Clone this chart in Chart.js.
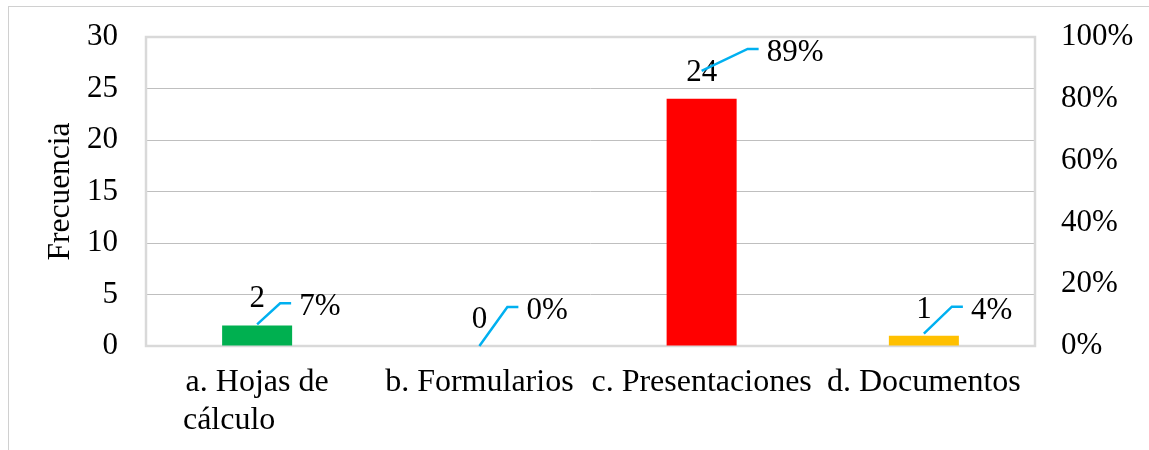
<!DOCTYPE html>
<html>
<head>
<meta charset="utf-8">
<script src="https://cdn.jsdelivr.net/npm/chart.js@4"></script>
<style>
  html, body { margin: 0; padding: 0; background: #fff; }
  #wrap { position: relative; width: 1149px; height: 450px; overflow: hidden; }
  #frame { position: absolute; left: 8px; top: 6px; width: 1200px; height: 500px;
           border-left: 1px solid #d0d0d0; border-top: 1px solid #d0d0d0; }
  #chart { position: absolute; left: 0; top: 0; }
</style>
</head>
<body>
<div id="wrap">
  <div id="frame"></div>
  <canvas id="chart" width="1149" height="450"></canvas>
</div>
<script>
// chart data
const categories = [['a. Hojas de', 'cálculo       '], 'b. Formularios', 'c. Presentaciones', 'd. Documentos'];
const frequencies = [2, 0, 24, 1];
const percentages = [0.07, 0, 0.89, 0.04];
const leftTicks = [0, 5, 10, 15, 20, 25, 30];
const rightTicks = [0, 0.2, 0.4, 0.6, 0.8, 1];

// styling
const barColors = ['#00b050', '#0070c0', '#ff0000', '#ffc000'];
const leaderColor = '#00b0f0';
const serif = "'Liberation Serif', 'Times New Roman', serif";
const fontSize = 31;
// elbow position of each percent callout, relative to its point (px)
const calloutOffsets = [[23, -21], [28, -39], [46, -22], [28, -27]];

const plotBox = { left: 146, right: 1035, top: 37, bottom: 346 };

// draws the plot frame under the bars
const frameBorder = {
    id: 'frameBorder',
    beforeDatasetsDraw(chart) {
        const { ctx, chartArea: a } = chart;
        ctx.save();
        ctx.strokeStyle = '#d9d9d9';
        ctx.lineWidth = 2.5;
        ctx.strokeRect(a.left, a.top, a.right - a.left, a.bottom - a.top);
        ctx.restore();
    }
};

// value labels above bars, percent callouts with leader lines
const labelsPlugin = {
    id: 'labelsPlugin',
    afterDatasetsDraw(chart) {
        const ctx = chart.ctx;
        const bars = chart.getDatasetMeta(0).data;
        const points = chart.getDatasetMeta(1).data;
        ctx.save();
        ctx.font = fontSize + 'px ' + serif;
        ctx.fillStyle = '#000';
        ctx.textAlign = 'center';
        ctx.textBaseline = 'alphabetic';
        bars.forEach((bar, i) => {
            ctx.fillText(String(frequencies[i]), bar.x, bar.y - 18);
        });

        points.forEach((pt, i) => {
            const [dx, dy] = calloutOffsets[i];
            const ex = pt.x + dx, ey = pt.y + dy;
            ctx.strokeStyle = leaderColor;
            ctx.lineWidth = 2.5;
            ctx.beginPath();
            ctx.moveTo(pt.x, pt.y);
            ctx.lineTo(ex, ey);
            ctx.lineTo(ex + 11, ey);
            ctx.stroke();
            ctx.textAlign = 'left';
            ctx.fillStyle = '#000';
            ctx.fillText(Math.round(percentages[i] * 100) + '%', ex + 19, ey + 12);
        });
        ctx.restore();
    }
};

// fixes an axis box size and drops the tick overflow padding
function fixSize(prop, size) {
    return scale => {
        scale[prop] = size;
        if (prop === 'width') {
            scale.paddingTop = 0;
            scale.paddingBottom = 0;
        }
    };
}

new Chart(document.getElementById('chart'), {
    data: {
        labels: categories,
        datasets: [{
            type: 'bar',
            label: 'Frecuencia',
            data: frequencies,
            backgroundColor: barColors,
            barPercentage: 0.315,
            categoryPercentage: 1,
            yAxisID: 'y',
            order: 2
        }, {
            type: 'line',
            label: 'Porcentaje',
            data: percentages,
            showLine: false,
            pointRadius: 0,
            borderColor: leaderColor,
            yAxisID: 'y1',
            order: 1
        }]
    },
    options: {
        responsive: false,
        animation: false,
        layout: { padding: { top: plotBox.top, left: 0, right: 0, bottom: 0 } },
        plugins: { legend: { display: false }, tooltip: { enabled: false } },
        scales: {
            x: {
                grid: { display: false },
                border: { display: false },
                ticks: {
                    color: '#000',
                    font: { family: serif, size: 32 },
                    maxRotation: 0, autoSkip: false, padding: 9
                },
                afterFit: fixSize('height', 450 - plotBox.bottom)
            },
            y: {
                position: 'left',
                min: 0, max: 30,
                afterBuildTicks(scale) { scale.ticks = leftTicks.map(v => ({ value: v })); },
                grid: { color: '#bfbfbf', lineWidth: 1, drawTicks: false },
                border: { display: false },
                ticks: { color: '#000', font: { family: serif, size: fontSize }, padding: 28 },
                title: {
                    display: true, text: 'Frecuencia', color: '#000',
                    font: { family: serif, size: 31.5 }, padding: { top: 42, bottom: 0 }
                },
                afterFit: fixSize('width', plotBox.left)
            },
            y1: {
                position: 'right',
                min: 0, max: 1,
                afterBuildTicks(scale) { scale.ticks = rightTicks.map(v => ({ value: v })); },
                grid: { display: false, drawTicks: false },
                border: { display: false },
                ticks: {
                    color: '#000', font: { family: serif, size: fontSize }, padding: 26,
                    callback: v => Math.round(v * 100) + '%'
                },
                afterFit: fixSize('width', 1149 - plotBox.right)
            }
        }
    },
    plugins: [frameBorder, labelsPlugin]
});
</script>
</body>
</html>
